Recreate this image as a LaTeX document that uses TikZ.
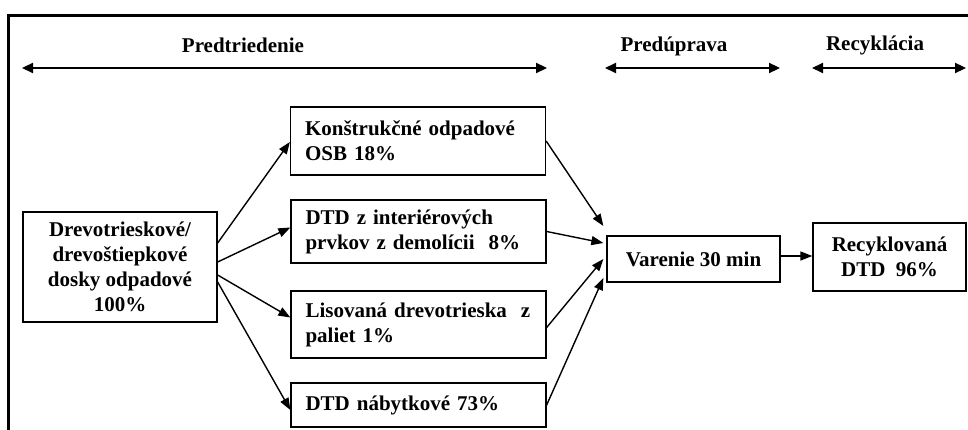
\documentclass[tikz,border=0pt]{standalone}
\usepackage{fontspec}
\setmainfont{Liberation Serif}
\usetikzlibrary{positioning,arrows.meta}

\begin{document}
\begin{tikzpicture}[
    x=1pt, y=-1pt,
    box/.style={draw, line width=1.3pt, inner sep=0pt, font=\bfseries\fontsize{21}{25}\selectfont},
    srcbox/.style={box, minimum width=194pt, minimum height=110pt, align=center},
    sortbox/.style={box, minimum width=255pt, text width=226pt, align=left},
    head/.style={font=\bfseries\fontsize{21}{24}\selectfont},
    span/.style={{Triangle[length=11pt,width=10pt]}-{Triangle[length=11pt,width=10pt]}, line width=2.2pt},
    flow/.style={-{Triangle[length=12pt,width=9pt]}, line width=1.4pt}
]
    \useasboundingbox (0,0) rectangle (968,430);

    % Frame
    \draw[line width=3pt] (8,432) -- (8,16) -- (970,16);

    % Phases
    \coordinate (s1a) at (22,68);
    \coordinate (s1b) at (547,68);
    \coordinate (s2a) at (605,68);
    \coordinate (s2b) at (780,68);
    \coordinate (s3a) at (812,68);
    \coordinate (s3b) at (966,68);

    \draw[span] (s1a) -- (s1b);
    \draw[span] (s2a) -- (s2b);
    \draw[span] (s3a) -- (s3b);

    \node[head] at (243,45) (sortlabel) {Predtriedenie};
    \node[head] at (674,46) (prelabel) {Predúprava};
    \node[head] at (875,45) (reclabel) {Recyklácia};

    % Boxes
    \node[srcbox] at (120,267) (src) {Drevotrieskové/\\drevoštiepkové\\dosky odpadové\\100\%};

    \node[sortbox, minimum height=68pt] at (418,141) (osb) {Konštrukčné odpadové\\OSB 18\%};
    \node[sortbox, minimum height=63pt] at (418.5,231.5) (inter) {DTD z interiérových\\prvkov z demolícii\ \ 8\%};
    \node[sortbox, minimum height=67pt] at (418.5,324.5) (pallet) {Lisovaná drevotrieska\ \ z\\paliet 1\%};
    \node[sortbox, minimum height=44pt] at (418.5,405) (furn) {DTD nábytkové 73\%};

    \node[box, minimum width=173pt, minimum height=46pt] at (693.5,259) (cook) {Varenie 30 min};
    \node[box, minimum width=153pt, minimum height=68pt, align=center] at (889.5,257) (recdtd) {Recyklovaná\\DTD\ \ 96\%};

    % Flows
    \draw[flow] ([yshift=24pt]src.east) -- ([yshift=-1pt]osb.west);
    \draw[flow] ([yshift=5pt]src.east) -- ([yshift=4pt]inter.west);
    \draw[flow] ([yshift=-8pt]src.east) -- ([yshift=7pt]pallet.west);
    \draw[flow] ([yshift=-15pt]src.east) -- ([yshift=-5pt]furn.west);

    \draw[flow] (osb.east) -- ([xshift=-3pt,yshift=33pt]cook.west);
    \draw[flow] (inter.east) -- ([xshift=-3pt,yshift=16pt]cook.west);
    \draw[flow] ([yshift=-3pt]pallet.east) -- ([xshift=-3pt]cook.west);
    \draw[flow] (furn.east) -- ([xshift=-3pt,yshift=-19pt]cook.west);

    \draw[flow] ([yshift=3pt]cook.east) -- ([yshift=1pt]recdtd.west);
\end{tikzpicture}
\end{document}
